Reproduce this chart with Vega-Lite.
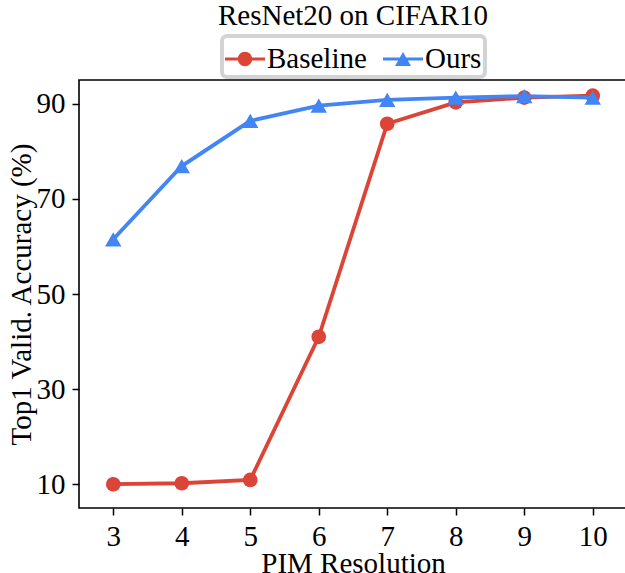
{
  "$schema": "https://vega.github.io/schema/vega-lite/v6.json",
  "autosize": {"type": "none"},
  "width": 548,
  "height": 428,
  "padding": {"left": 79, "top": 80, "right": 0, "bottom": 65},
  "background": "white",
  "config": {
    "font": "Liberation Serif",
    "view": {"stroke": "black", "strokeWidth": 1.6},
    "axis": {"grid": false, "domain": false, "tickColor": "black", "tickWidth": 1.5, "tickSize": 7, "labelColor": "black", "labelFontSize": 29, "labelPadding": 7, "titleColor": "black", "titleFontSize": 29, "titleFontWeight": "normal", "labelFont": "Liberation Serif", "titleFont": "Liberation Serif"}
  },
  "title": {"text": "ResNet20 on CIFAR10", "fontSize": 29, "font": "Liberation Serif", "fontWeight": "normal", "anchor": "middle", "frame": "group", "baseline": "alphabetic", "offset": -20, "color": "black"},
  "data": {"values": [
    {"method": "Baseline", "resolution": 3, "accuracy": 10.0},
    {"method": "Baseline", "resolution": 4, "accuracy": 10.2},
    {"method": "Baseline", "resolution": 5, "accuracy": 10.9},
    {"method": "Baseline", "resolution": 6, "accuracy": 41.0},
    {"method": "Baseline", "resolution": 7, "accuracy": 85.8},
    {"method": "Baseline", "resolution": 8, "accuracy": 90.3},
    {"method": "Baseline", "resolution": 9, "accuracy": 91.3},
    {"method": "Baseline", "resolution": 10, "accuracy": 91.7},
    {"method": "Ours", "resolution": 3, "accuracy": 61.5},
    {"method": "Ours", "resolution": 4, "accuracy": 76.9},
    {"method": "Ours", "resolution": 5, "accuracy": 86.4},
    {"method": "Ours", "resolution": 6, "accuracy": 89.6},
    {"method": "Ours", "resolution": 7, "accuracy": 90.8},
    {"method": "Ours", "resolution": 8, "accuracy": 91.3},
    {"method": "Ours", "resolution": 9, "accuracy": 91.6},
    {"method": "Ours", "resolution": 10, "accuracy": 91.3}
  ]},
  "encoding": {
    "x": {"field": "resolution", "type": "quantitative", "scale": {"domain": [2.5, 10.5], "nice": false, "zero": false}, "axis": {"values": [3, 4, 5, 6, 7, 8, 9, 10], "title": "PIM Resolution", "titlePadding": -2}},
    "y": {"field": "accuracy", "type": "quantitative", "scale": {"domain": [5, 95], "nice": false, "zero": false}, "axis": {"values": [10, 30, 50, 70, 90], "title": "Top1 Valid. Accuracy (%)", "titlePadding": 0}},
    "color": {"field": "method", "type": "nominal", "scale": {"domain": ["Baseline", "Ours"], "range": ["#DB4437", "#4285F4"]},
      "legend": {"title": null, "orient": "none", "direction": "horizontal", "legendX": 143, "legendY": -44, "padding": 3, "strokeColor": "#d3d3d3", "cornerRadius": 5, "fillColor": "white", "labelFont": "Liberation Serif", "labelFontSize": 29, "labelColor": "black", "labelOffset": 2, "columnPadding": 16, "symbolSize": 1600, "symbolStrokeWidth": 0,
        "encode": {
          "legend": {"update": {"strokeWidth": {"value": 4}}},
          "symbols": {
            "update": {
              "shape": {"signal": "datum.value == 'Baseline' ? 'M-1,-0.075L1,-0.075L1,0.075L-1,0.075Z M-0.36,0A0.36,0.36,0,1,1,0.36,0A0.36,0.36,0,1,1,-0.36,0Z' : 'M-1,-0.075L1,-0.075L1,0.075L-1,0.075Z M0,-0.35L0.4,0.35L-0.4,0.35Z'"},
              "fill": {"signal": "datum.value == 'Baseline' ? '#DB4437' : '#4285F4'"},
              "stroke": {"value": "transparent"},
              "strokeWidth": {"value": 0},
              "opacity": {"value": 1}
            }
          }
        }
      }
    }
  },
  "layer": [
    {"transform": [{"filter": "datum.method == 'Baseline'"}], "mark": {"type": "line", "strokeWidth": 3.8}},
    {"transform": [{"filter": "datum.method == 'Baseline'"}], "mark": {"type": "point", "shape": "circle", "filled": true, "opacity": 1, "size": 215}},
    {"transform": [{"filter": "datum.method == 'Ours'"}], "mark": {"type": "line", "strokeWidth": 3.8}},
    {"transform": [{"filter": "datum.method == 'Ours'"}], "mark": {"type": "point", "shape": "triangle-up", "filled": true, "opacity": 1, "size": 270}}
  ]
}
